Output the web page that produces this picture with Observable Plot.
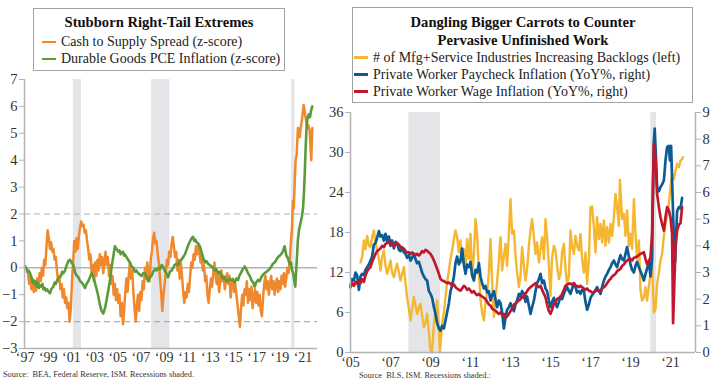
<!DOCTYPE html>
<html><head><meta charset="utf-8">
<script src="https://cdn.jsdelivr.net/npm/d3@7"></script>
<script src="https://cdn.jsdelivr.net/npm/@observablehq/plot@0.6"></script>
<style>
body{margin:0;background:#fff;}
#wrap{position:relative;width:720px;height:380px;font-family:"Liberation Serif",serif;color:#222;overflow:hidden;background:#fff}
.box{position:absolute;border:1.5px solid #a3a3a3;background:#fff;box-sizing:border-box}
.title{font-weight:bold;text-align:center;font-size:14.6px;line-height:18px;color:#111}
.item{font-size:14px;line-height:17px;white-space:nowrap;color:#222}
.sw{display:inline-block;width:14px;height:2.5px;vertical-align:middle;margin-right:5px;position:relative;top:-1px}
.src{position:absolute;font-size:8.3px;color:#333;white-space:nowrap}
.chart{position:absolute;top:0}
</style></head>
<body>
<div id="wrap">
  <div id="leftChart" class="chart" style="left:0"></div>
  <div id="rightChart" class="chart" style="left:325px"></div>
  <div class="box" style="left:33px;top:8px;width:252px;height:63px;padding:4px 0 0 8px">
    <div class="title" style="padding-right:8px">Stubborn Right-Tail Extremes</div>
    <div class="item" style="margin-top:2px"><span class="sw" style="background:#F0882D"></span>Cash to Supply Spread (z-score)</div>
    <div class="item"><span class="sw" style="background:#5B9B3A"></span>Durable Goods PCE Inflation (z-score)</div>
  </div>
  <div class="box" style="left:352px;top:7px;width:341px;height:96px;padding:4.5px 0 0 1px">
    <div class="title">Dangling Bigger Carrots to Counter<br>Pervasive Unfinished Work</div>
    <div class="item"><span class="sw" style="background:#F5B731"></span># of Mfg+Service Industries Increasing Backlogs (left)</div>
    <div class="item"><span class="sw" style="background:#0B5C95"></span>Private Worker Paycheck Inflation (YoY%, right)</div>
    <div class="item"><span class="sw" style="background:#C0172F"></span>Private Worker Wage Inflation (YoY%, right)</div>
  </div>
  <div class="src" style="left:3px;top:370px">Source:&nbsp; BEA, Federal Reserve, ISM. Recessions shaded.</div>
  <div class="src" style="left:359px;top:371px">Source&nbsp; BLS, ISM. Recessions shaded.:</div>
</div>
<script>
// ---------- DATA ----------
const recessions = [[2001.17, 2001.87], [2007.92, 2009.5], [2020.02, 2020.3]];

const leftYTicks = [-3, -2, -1, 0, 1, 2, 3, 4, 5, 6, 7];
const leftYears = [1997, 1999, 2001, 2003, 2005, 2007, 2009, 2011, 2013, 2015, 2017, 2019, 2021];
const rightLeftTicks = [0, 6, 12, 18, 24, 30, 36];
const rightRightTicks = [0, 1, 2, 3, 4, 5, 6, 7, 8, 9];
const rightYears = [2005, 2007, 2009, 2011, 2013, 2015, 2017, 2019, 2021];

// Cash to Supply Spread (z-score)
const cashSupply = [
[1997.25,-0.2],[1997.35,-0.6],[1997.45,-0.3],[1997.55,-0.8],[1997.65,-0.5],[1997.75,-0.9],[1997.85,-0.6],[1997.95,-0.85],
[1998.05,-0.4],[1998.15,-0.7],[1998.25,-0.2],[1998.35,-0.5],[1998.45,0.0],[1998.55,-0.3],[1998.65,0.3],[1998.75,0.1],[1998.85,0.8],[1998.95,1.4],
[1999.05,1.1],[1999.15,0.7],[1999.25,0.95],[1999.35,0.6],[1999.45,0.7],[1999.55,0.3],[1999.65,0.4],[1999.75,-0.1],[1999.85,-0.5],[1999.95,-0.3],
[2000.05,-0.8],[2000.15,-0.6],[2000.25,-1.1],[2000.35,-0.8],[2000.45,-1.3],[2000.55,-1.1],[2000.65,-1.5],[2000.75,-1.3],[2000.85,-2.0],[2000.95,-1.5],
[2001.05,-0.5],[2001.15,0.2],[2001.25,1.0],[2001.35,0.6],[2001.45,1.1],[2001.55,0.7],[2001.65,1.2],[2001.75,1.5],[2001.85,1.72],[2001.95,1.55],
[2002.05,1.6],[2002.15,1.3],[2002.25,1.4],[2002.35,1.0],[2002.45,0.7],[2002.55,0.3],[2002.65,0.5],[2002.75,-0.2],[2002.85,0.1],[2002.95,-0.5],
[2003.05,0.2],[2003.15,-0.3],[2003.25,0.3],[2003.35,-0.1],[2003.45,0.5],[2003.55,0.1],[2003.65,0.4],[2003.75,-0.2],[2003.85,0.2],[2003.95,0.6],
[2004.05,0.1],[2004.15,0.4],[2004.25,-0.3],[2004.35,0.1],[2004.45,-0.6],[2004.55,-0.3],[2004.65,-1.0],[2004.75,-0.6],[2004.85,-1.2],[2004.95,-0.8],
[2005.05,-1.3],[2005.15,-1.0],[2005.25,-1.8],[2005.35,-1.3],[2005.45,-2.1],[2005.55,-1.6],[2005.65,-0.9],[2005.75,-0.4],[2005.85,-0.9],[2005.95,-0.3],
[2006.05,0.2],[2006.15,-0.4],[2006.25,-0.1],[2006.35,-0.9],[2006.45,-1.5],[2006.55,-2.0],[2006.65,-1.4],[2006.75,-1.0],[2006.85,-1.6],[2006.95,-0.9],
[2007.05,-1.2],[2007.15,-0.5],[2007.25,-0.8],[2007.35,0.0],[2007.45,-0.4],[2007.55,0.2],[2007.65,-0.2],[2007.75,-0.5],[2007.85,0.3],[2007.95,0.6],
[2008.05,1.1],[2008.15,1.3],[2008.25,0.9],[2008.35,1.0],[2008.45,0.5],[2008.55,0.2],[2008.65,-0.4],[2008.75,-0.9],[2008.85,-1.6],[2008.95,-1.0],
[2009.05,-0.6],[2009.15,-0.2],[2009.25,0.3],[2009.35,0.1],[2009.45,0.6],[2009.55,0.4],[2009.65,0.9],[2009.75,1.15],[2009.85,0.8],[2009.95,0.4],
[2010.05,0.6],[2010.15,-0.1],[2010.25,0.3],[2010.35,-0.4],[2010.45,0.2],[2010.55,-0.3],[2010.65,-0.9],[2010.75,-1.3],[2010.85,-0.9],[2010.95,-1.1],
[2011.05,-0.6],[2011.15,-0.9],[2011.25,-0.3],[2011.35,0.2],[2011.45,0.0],[2011.55,0.5],[2011.65,0.3],[2011.75,0.8],[2011.85,0.5],[2011.95,0.9],
[2012.05,0.6],[2012.15,0.2],[2012.25,0.5],[2012.35,-0.1],[2012.45,0.1],[2012.55,-0.5],[2012.65,-0.3],[2012.75,-1.0],[2012.85,-1.3],[2012.95,-0.8],
[2013.05,-0.4],[2013.15,-0.7],[2013.25,-0.2],[2013.35,0.2],[2013.45,-0.3],[2013.55,-0.6],[2013.65,-0.2],[2013.75,-0.9],[2013.85,-0.5],[2013.95,-0.1],
[2014.05,-0.5],[2014.15,-0.3],[2014.25,-0.8],[2014.35,-0.4],[2014.45,-0.2],[2014.55,-0.6],[2014.65,-0.3],[2014.75,-1.1],[2014.85,-0.6],[2014.95,-0.4],
[2015.05,-0.9],[2015.15,-0.6],[2015.25,-1.0],[2015.35,-1.4],[2015.45,-1.8],[2015.55,-2.2],[2015.65,-1.5],[2015.75,-1.0],[2015.85,-1.4],[2015.95,-0.8],
[2016.05,-1.0],[2016.15,-0.5],[2016.25,-1.3],[2016.35,-0.8],[2016.45,-1.2],[2016.55,-0.7],[2016.65,-1.5],[2016.75,-1.1],[2016.85,-0.8],[2016.95,-1.3],
[2017.05,-0.9],[2017.15,-1.4],[2017.25,-1.0],[2017.35,-1.6],[2017.45,-1.8],[2017.55,-1.1],[2017.65,-0.6],[2017.75,-0.3],[2017.85,-0.8],[2017.95,-0.5],
[2018.05,-1.0],[2018.15,-0.6],[2018.25,-0.3],[2018.35,-0.8],[2018.45,-0.5],[2018.55,-1.0],[2018.65,-0.6],[2018.75,-0.4],[2018.85,-0.9],[2018.95,-0.5],
[2019.05,-0.8],[2019.15,-0.3],[2019.25,-0.6],[2019.35,-0.2],[2019.45,-0.7],[2019.55,-0.4],[2019.65,0.0],[2019.75,-0.2],[2019.85,0.3],[2019.95,0.9],
[2020.05,1.5],[2020.13,2.5],[2020.2,2.2],[2020.3,3.4],[2020.36,4.0],[2020.45,4.2],[2020.56,5.2],[2020.71,4.85],[2020.8,5.2],[2020.91,5.5],
[2021.05,6.05],[2021.15,5.8],[2021.25,5.5],[2021.35,5.2],[2021.45,5.3],[2021.57,5.1],[2021.71,4.0],[2021.8,5.2]
];

// Durable Goods PCE Inflation (z-score)
const durablePCE = [
[1997.0,0.05],[1997.1,0.0],[1997.2,-0.15],[1997.3,-0.1],[1997.43,-0.2],[1997.55,-0.35],[1997.65,-0.55],[1997.72,-0.45],[1997.8,-0.6],[1997.9,-0.5],
[1998.0,-0.7],[1998.1,-0.55],[1998.2,-0.75],[1998.3,-0.65],[1998.4,-0.7],[1998.5,-0.6],[1998.58,-0.8],[1998.7,-0.75],[1998.8,-0.85],[1998.9,-0.8],
[1999.0,-0.88],[1999.15,-0.95],[1999.25,-0.8],[1999.35,-0.75],[1999.44,-0.7],[1999.55,-0.55],[1999.65,-0.6],[1999.73,-0.5],[1999.85,-0.4],
[2000.0,-0.35],[2000.1,-0.3],[2000.2,-0.15],[2000.3,-0.2],[2000.45,-0.1],[2000.55,0.05],[2000.65,0.15],[2000.73,0.25],[2000.88,0.3],
[2001.0,0.2],[2001.17,0.1],[2001.3,-0.15],[2001.46,-0.3],[2001.6,-0.35],[2001.75,-0.5],[2001.9,-0.55],
[2002.05,-0.65],[2002.17,-0.75],[2002.3,-0.6],[2002.46,-0.5],[2002.6,-0.35],[2002.75,-0.2],[2002.9,-0.35],
[2003.03,-0.55],[2003.15,-0.75],[2003.32,-1.05],[2003.45,-1.35],[2003.6,-1.6],[2003.75,-1.7],[2003.9,-1.5],
[2004.04,-1.2],[2004.2,-0.8],[2004.33,-0.45],[2004.45,-0.05],[2004.61,0.4],[2004.7,0.65],[2004.76,0.8],[2004.9,0.7],
[2005.04,0.6],[2005.15,0.65],[2005.25,0.5],[2005.33,0.55],[2005.45,0.6],[2005.55,0.45],[2005.62,0.5],[2005.75,0.4],[2005.9,0.3],
[2006.05,0.2],[2006.2,0.05],[2006.35,0.0],[2006.48,-0.15],[2006.6,-0.1],[2006.77,-0.2],[2006.9,-0.25],
[2007.06,-0.3],[2007.2,-0.2],[2007.34,-0.2],[2007.5,-0.35],[2007.63,-0.5],[2007.78,-0.35],[2007.92,-0.3],
[2008.05,-0.15],[2008.2,-0.05],[2008.35,-0.1],[2008.5,0.0],[2008.65,-0.05],[2008.8,0.1],[2008.92,0.05],
[2009.05,-0.1],[2009.2,-0.2],[2009.35,-0.35],[2009.5,-0.15],[2009.65,-0.1],[2009.78,0.0],[2009.9,0.1],
[2010.07,0.15],[2010.2,0.1],[2010.35,0.25],[2010.5,0.3],[2010.65,0.4],[2010.8,0.5],[2010.93,0.65],
[2011.05,0.8],[2011.2,0.95],[2011.37,1.1],[2011.51,1.15],[2011.6,1.0],[2011.7,1.05],[2011.8,0.95],[2011.95,0.9],
[2012.09,0.8],[2012.23,0.6],[2012.35,0.4],[2012.52,0.2],[2012.65,0.25],[2012.8,0.15],[2012.95,0.1],
[2013.1,0.05],[2013.23,0.0],[2013.35,-0.1],[2013.5,-0.05],[2013.67,-0.2],[2013.8,-0.15],[2013.95,-0.3],
[2014.1,-0.4],[2014.25,-0.35],[2014.4,-0.5],[2014.53,-0.5],[2014.65,-0.4],[2014.8,-0.45],[2014.96,-0.45],
[2015.1,-0.55],[2015.25,-0.4],[2015.39,-0.45],[2015.5,-0.3],[2015.68,-0.15],[2015.8,-0.05],[2015.97,0.05],
[2016.1,-0.05],[2016.25,-0.2],[2016.4,-0.3],[2016.54,-0.45],[2016.7,-0.55],[2016.83,-0.7],[2016.95,-0.55],
[2017.11,-0.45],[2017.25,-0.5],[2017.4,-0.35],[2017.55,-0.25],[2017.69,-0.2],[2017.85,-0.15],[2017.97,-0.1],
[2018.1,-0.05],[2018.26,0.05],[2018.4,0.15],[2018.55,0.2],[2018.7,0.3],[2018.85,0.4],[2018.98,0.45],
[2019.1,0.5],[2019.25,0.6],[2019.41,0.8],[2019.5,0.6],[2019.56,0.45],[2019.7,0.35],[2019.84,0.15],[2019.95,0.2],
[2020.05,-0.1],[2020.15,-0.2],[2020.25,-0.5],[2020.33,-0.7],[2020.45,0.2],[2020.55,1.0],[2020.65,1.4],[2020.75,1.6],[2020.9,1.9],
[2021.0,2.2],[2021.08,2.8],[2021.15,3.5],[2021.22,4.4],[2021.3,5.2],[2021.4,5.6],[2021.5,5.7],[2021.6,5.6],[2021.7,5.85],[2021.8,6.0]
];

// # of Mfg+Service Industries Increasing Backlogs (left axis)
const backlogs = [
[2005.50,13.5],[2005.58,14.3],[2005.67,16.8],[2005.75,15.5],[2005.83,17.5],[2005.92,16.0],
[2006.00,15.8],[2006.08,17.3],[2006.17,18.3],[2006.25,16.5],[2006.33,15.3],[2006.42,14.0],[2006.50,12.3],[2006.58,14.3],[2006.67,15.3],[2006.75,13.0],[2006.83,11.8],[2006.92,12.8],
[2007.00,13.8],[2007.08,12.0],[2007.17,11.3],[2007.25,12.5],[2007.33,13.3],[2007.42,12.0],[2007.50,10.8],[2007.58,11.8],[2007.67,12.8],[2007.75,10.5],[2007.83,8.3],[2007.92,6.5],
[2008.00,4.8],[2008.08,6.5],[2008.17,8.3],[2008.25,7.0],[2008.33,5.8],[2008.42,6.8],[2008.50,7.3],[2008.58,5.5],[2008.67,3.8],[2008.75,4.5],[2008.83,5.8],[2008.92,3.0],
[2009.00,0.3],[2009.08,0.0],[2009.17,4.3],[2009.25,6.3],[2009.33,7.8],[2009.42,3.5],[2009.47,0.0],[2009.58,4.3],[2009.67,6.0],[2009.75,8.3],[2009.83,10.5],[2009.92,12.3],
[2010.00,14.0],[2010.08,15.3],[2010.17,17.0],[2010.25,18.3],[2010.33,17.3],[2010.42,15.0],[2010.50,16.8],[2010.58,13.5],[2010.67,15.5],[2010.75,12.5],[2010.83,17.0],[2010.92,14.0],
[2011.00,17.8],[2011.08,11.3],[2011.17,14.8],[2011.25,20.0],[2011.33,17.8],[2011.42,12.0],[2011.50,8.0],[2011.58,6.0],[2011.67,4.8],[2011.75,7.5],[2011.83,9.0],[2011.92,12.0],
[2012.00,17.0],[2012.08,10.8],[2012.17,5.3],[2012.25,8.5],[2012.33,10.5],[2012.42,14.0],[2012.50,17.3],[2012.58,12.3],[2012.67,14.5],[2012.75,16.3],[2012.83,13.0],[2012.92,18.0],
[2013.00,23.0],[2013.08,17.8],[2013.17,18.3],[2013.25,14.5],[2013.33,12.0],[2013.42,9.8],[2013.50,11.5],[2013.58,15.8],[2013.67,13.0],[2013.75,10.8],[2013.83,12.5],[2013.92,16.0],
[2014.00,18.3],[2014.08,20.0],[2014.17,17.3],[2014.25,14.8],[2014.33,16.5],[2014.42,13.5],[2014.50,15.5],[2014.58,17.3],[2014.67,14.0],[2014.75,20.0],[2014.83,17.3],[2014.92,13.0],
[2015.00,8.5],[2015.08,14.3],[2015.17,16.0],[2015.25,15.3],[2015.33,13.0],[2015.42,11.0],[2015.50,11.8],[2015.58,15.0],[2015.67,16.3],[2015.75,12.5],[2015.83,10.3],[2015.92,11.5],
[2016.00,18.3],[2016.08,15.8],[2016.17,14.8],[2016.25,17.5],[2016.33,16.0],[2016.42,15.3],[2016.50,17.8],[2016.58,14.0],[2016.67,12.0],[2016.75,15.0],[2016.83,10.3],[2016.92,14.0],
[2017.00,21.8],[2017.08,21.9],[2017.17,18.8],[2017.25,15.0],[2017.33,20.3],[2017.42,17.0],[2017.50,19.3],[2017.58,16.5],[2017.67,19.8],[2017.75,16.0],[2017.83,18.8],[2017.92,16.5],
[2018.00,19.3],[2018.08,17.5],[2018.17,20.3],[2018.25,23.8],[2018.33,21.8],[2018.42,19.0],[2018.47,25.9],[2018.53,22.8],[2018.58,20.0],[2018.67,20.8],[2018.75,17.5],[2018.83,21.3],[2018.92,16.0],
[2019.00,17.8],[2019.08,15.5],[2019.17,23.0],[2019.25,17.8],[2019.33,14.0],[2019.42,16.8],[2019.50,9.3],[2019.58,7.8],[2019.67,8.3],[2019.75,9.8],[2019.83,7.8],[2019.92,10.0],
[2020.00,11.8],[2020.08,13.8],[2020.17,6.0],[2020.25,6.5],[2020.33,10.3],[2020.42,12.0],[2020.50,13.8],[2020.58,14.8],[2020.67,17.5],[2020.75,19.3],[2020.83,20.3],[2020.92,22.3],
[2021.00,24.8],[2021.08,26.8],[2021.17,26.0],[2021.25,27.3],[2021.33,28.3],[2021.42,27.8],[2021.50,28.8],[2021.58,29.0],[2021.63,29.3]
];

// Private Worker Paycheck Inflation (YoY%, right axis)
const paycheck = [
[2005.00,2.5],[2005.08,2.75],[2005.17,2.7],[2005.25,3.0],[2005.33,2.9],[2005.42,2.35],[2005.50,2.85],[2005.58,2.95],[2005.67,2.9],[2005.75,3.1],[2005.83,3.2],[2005.92,3.3],
[2006.00,3.45],[2006.08,3.6],[2006.17,4.05],[2006.25,4.1],[2006.33,4.3],[2006.42,4.55],[2006.50,4.35],[2006.58,4.4],[2006.67,4.2],[2006.75,4.45],[2006.83,4.15],[2006.92,4.35],
[2007.00,4.0],[2007.08,4.2],[2007.17,3.9],[2007.25,4.15],[2007.33,4.1],[2007.42,3.85],[2007.50,3.8],[2007.58,3.95],[2007.67,3.75],[2007.75,3.7],[2007.83,3.55],[2007.92,3.65],
[2008.00,3.45],[2008.08,3.55],[2008.17,3.7],[2008.25,3.5],[2008.33,3.35],[2008.42,3.4],[2008.50,3.2],[2008.58,3.0],[2008.67,2.85],[2008.75,2.75],[2008.83,2.7],[2008.92,2.3],
[2009.00,2.2],[2009.08,2.05],[2009.17,1.7],[2009.25,1.45],[2009.33,1.1],[2009.42,0.9],[2009.50,0.82],[2009.58,1.0],[2009.67,0.9],[2009.75,1.2],[2009.83,1.5],[2009.92,1.85],
[2010.00,2.3],[2010.08,2.5],[2010.17,2.85],[2010.25,3.35],[2010.33,3.6],[2010.42,3.3],[2010.50,3.45],[2010.58,3.9],[2010.67,3.3],[2010.75,2.95],[2010.83,3.3],[2010.92,3.2],
[2011.00,3.4],[2011.08,2.9],[2011.17,2.7],[2011.25,3.1],[2011.33,3.0],[2011.42,3.35],[2011.50,2.85],[2011.58,2.6],[2011.67,2.4],[2011.75,2.5],[2011.83,2.25],[2011.92,2.3],
[2012.00,1.95],[2012.08,2.15],[2012.17,2.3],[2012.25,2.0],[2012.33,1.7],[2012.42,1.95],[2012.50,1.85],[2012.58,1.5],[2012.67,0.9],[2012.75,1.3],[2012.83,1.6],[2012.92,1.7],
[2013.00,1.85],[2013.08,1.7],[2013.17,1.55],[2013.25,1.8],[2013.33,1.95],[2013.42,2.2],[2013.50,2.1],[2013.58,2.3],[2013.67,2.2],[2013.75,1.9],[2013.83,2.1],[2013.92,1.75],
[2014.00,1.45],[2014.08,1.7],[2014.17,1.95],[2014.25,2.3],[2014.33,2.6],[2014.42,2.75],[2014.50,2.95],[2014.58,2.6],[2014.67,2.7],[2014.75,2.4],[2014.83,2.3],[2014.92,1.95],
[2015.00,1.7],[2015.08,1.9],[2015.17,2.05],[2015.25,1.85],[2015.33,1.7],[2015.42,1.9],[2015.50,2.1],[2015.58,2.0],[2015.67,2.2],[2015.75,2.35],[2015.83,2.45],[2015.92,2.3],
[2016.00,2.2],[2016.08,2.4],[2016.17,2.6],[2016.25,2.45],[2016.33,2.25],[2016.42,2.3],[2016.50,2.2],[2016.58,2.35],[2016.67,2.3],[2016.75,1.9],[2016.83,1.6],[2016.92,1.8],
[2017.00,2.05],[2017.08,2.15],[2017.17,2.25],[2017.25,2.35],[2017.33,2.45],[2017.42,2.3],[2017.50,2.2],[2017.58,2.45],[2017.67,2.7],[2017.75,2.85],[2017.83,2.95],[2017.92,3.1],
[2018.00,3.2],[2018.08,3.35],[2018.17,3.45],[2018.25,3.3],[2018.33,3.2],[2018.42,3.45],[2018.50,3.65],[2018.58,3.5],[2018.67,3.45],[2018.75,3.7],[2018.83,3.95],[2018.92,3.6],
[2019.00,3.3],[2019.08,3.1],[2019.17,3.0],[2019.25,3.25],[2019.33,3.4],[2019.42,3.2],[2019.50,3.05],[2019.58,2.9],[2019.67,2.7],[2019.75,2.95],[2019.83,3.15],[2019.92,3.45],
[2020.00,2.85],[2020.08,3.5],[2020.13,6.5],[2020.17,7.95],[2020.21,8.4],[2020.25,7.7],[2020.33,6.2],[2020.42,6.05],[2020.50,6.2],[2020.58,6.3],[2020.67,6.45],[2020.75,7.2],
[2020.83,7.7],[2020.92,7.75],[2020.97,7.2],[2021.03,7.75],[2021.10,5.95],[2021.17,4.2],[2021.23,3.4],[2021.33,5.3],[2021.42,5.45],[2021.50,5.4],[2021.58,5.8]
];

// Private Worker Wage Inflation (YoY%, right axis)
const wage = [
[2005.00,2.45],[2005.08,2.6],[2005.17,2.5],[2005.25,2.65],[2005.33,2.58],[2005.42,2.7],[2005.50,2.6],[2005.58,2.75],[2005.67,2.65],[2005.75,2.9],[2005.83,3.05],[2005.92,3.15],
[2006.00,3.2],[2006.08,3.4],[2006.17,3.55],[2006.25,3.7],[2006.33,3.8],[2006.42,3.85],[2006.50,3.9],[2006.58,4.0],[2006.67,3.95],[2006.75,4.07],[2006.83,4.1],[2006.92,4.15],
[2007.00,4.05],[2007.08,4.1],[2007.17,4.0],[2007.25,4.05],[2007.33,4.1],[2007.42,4.05],[2007.50,3.95],[2007.58,3.9],[2007.67,3.9],[2007.75,3.8],[2007.83,3.75],[2007.92,3.76],
[2008.00,3.7],[2008.08,3.75],[2008.17,3.7],[2008.25,3.65],[2008.33,3.7],[2008.42,3.64],[2008.50,3.7],[2008.58,3.8],[2008.67,3.76],[2008.75,3.85],[2008.83,3.82],[2008.92,3.75],
[2009.00,3.7],[2009.08,3.6],[2009.17,3.45],[2009.25,3.3],[2009.33,3.14],[2009.42,2.95],[2009.50,2.76],[2009.58,2.7],[2009.67,2.68],[2009.75,2.64],[2009.83,2.6],[2009.92,2.62],
[2010.00,2.58],[2010.08,2.5],[2010.17,2.55],[2010.25,2.45],[2010.33,2.4],[2010.42,2.35],[2010.50,2.32],[2010.58,2.4],[2010.67,2.5],[2010.75,2.45],[2010.83,2.35],[2010.92,2.4],
[2011.00,2.32],[2011.08,2.25],[2011.17,2.3],[2011.25,2.2],[2011.33,2.15],[2011.42,2.2],[2011.50,2.14],[2011.58,2.1],[2011.67,2.05],[2011.75,2.01],[2011.83,1.9],[2011.92,1.8],
[2012.00,1.76],[2012.08,1.65],[2012.17,1.6],[2012.25,1.57],[2012.33,1.5],[2012.42,1.45],[2012.50,1.5],[2012.58,1.4],[2012.67,1.45],[2012.75,1.3],[2012.83,1.35],[2012.92,1.45],
[2013.00,1.55],[2013.08,1.65],[2013.17,1.8],[2013.25,1.83],[2013.33,1.9],[2013.42,1.95],[2013.50,2.0],[2013.58,2.1],[2013.67,2.05],[2013.75,2.2],[2013.83,2.3],[2013.92,2.4],
[2014.00,2.45],[2014.08,2.5],[2014.17,2.55],[2014.25,2.6],[2014.33,2.5],[2014.42,2.45],[2014.50,2.5],[2014.58,2.35],[2014.67,2.2],[2014.75,2.07],[2014.83,1.8],[2014.92,1.55],
[2015.00,1.45],[2015.08,1.6],[2015.17,1.83],[2015.25,1.9],[2015.33,2.0],[2015.42,2.05],[2015.50,2.08],[2015.58,2.2],[2015.67,2.35],[2015.75,2.5],[2015.83,2.55],[2015.92,2.58],
[2016.00,2.58],[2016.08,2.55],[2016.17,2.6],[2016.25,2.5],[2016.33,2.5],[2016.42,2.45],[2016.50,2.5],[2016.58,2.45],[2016.67,2.4],[2016.75,2.35],[2016.83,2.4],[2016.92,2.32],
[2017.00,2.3],[2017.08,2.25],[2017.17,2.26],[2017.25,2.3],[2017.33,2.35],[2017.42,2.3],[2017.50,2.32],[2017.58,2.4],[2017.67,2.45],[2017.75,2.5],[2017.83,2.6],[2017.92,2.7],
[2018.00,2.76],[2018.08,2.85],[2018.17,2.9],[2018.25,2.95],[2018.33,3.05],[2018.42,3.1],[2018.50,3.14],[2018.58,3.25],[2018.67,3.3],[2018.75,3.39],[2018.83,3.45],[2018.92,3.5],
[2019.00,3.51],[2019.08,3.45],[2019.17,3.55],[2019.25,3.57],[2019.33,3.6],[2019.42,3.65],[2019.50,3.7],[2019.58,3.72],[2019.67,3.76],[2019.75,3.5],[2019.83,3.32],[2019.92,3.4],
[2020.00,3.57],[2020.08,4.45],[2020.17,7.82],[2020.25,7.32],[2020.33,5.95],[2020.42,5.45],[2020.50,5.07],[2020.58,4.82],[2020.67,4.57],[2020.75,5.07],[2020.83,5.45],[2020.92,5.32],
[2021.00,5.07],[2021.08,4.45],[2021.13,1.1],[2021.25,4.0],[2021.33,4.57],[2021.42,4.8],[2021.50,4.85],[2021.58,5.45]
];

// ---------- CHARTS ----------
const yr = d => "\u2018" + String(d).slice(2);
const axisGray = "#b3b3b3";
const font = '"Liberation Serif", serif';

const leftX0 = 1996.95, leftX1 = 2022.25;
const leftPlot = Plot.plot({
  width: 325, height: 380,
  marginLeft: 24, marginRight: 8, marginTop: 79, marginBottom: 32,
  style: {fontFamily: font, fontSize: "14px", background: "none", color: "#333", overflow: "visible"},
  x: {domain: [leftX0, leftX1], axis: null},
  y: {domain: [-3, 7], axis: null},
  marks: [
    Plot.rect(recessions, {x1: d => d[0], x2: d => d[1], y1: () => -3, y2: () => 7, fill: "#e4e5e8"}),
    Plot.ruleY([0], {stroke: axisGray, strokeWidth: 1.5}),
    Plot.ruleY([2, -2], {stroke: "#b0b0b0", strokeWidth: 1.2, strokeDasharray: "6,4"}),
    Plot.line(cashSupply, {x: d => d[0], y: d => d[1], stroke: "#F0882D", strokeWidth: 2.5, strokeLinejoin: "round"}),
    Plot.line(durablePCE, {x: d => d[0], y: d => d[1], stroke: "#5B9B3A", strokeWidth: 2.6, strokeLinejoin: "round"}),
    Plot.ruleX([leftX0], {stroke: axisGray, strokeWidth: 1.5}),
    Plot.ruleY([-3], {stroke: axisGray, strokeWidth: 1.5}),
    Plot.axisY(leftYTicks, {anchor: "left", tickSize: 5, tickPadding: 2, stroke: axisGray, fill: "#333", fontSize: 14.5}),
    Plot.axisX(leftYears, {anchor: "bottom", tickSize: 0, tickPadding: 4, tickFormat: yr, fill: "#333", fontSize: 14})
  ]
});
document.getElementById("leftChart").append(leftPlot);

const rX0 = 2005, rX1 = 2022.25;
const rightPlot = Plot.plot({
  width: 395, height: 380,
  marginLeft: 25, marginRight: 25, marginTop: 112, marginBottom: 28,
  style: {fontFamily: font, fontSize: "14px", background: "none", color: "#333", overflow: "visible"},
  x: {domain: [rX0, rX1], axis: null},
  y: {domain: [0, 36], axis: null},
  marks: [
    Plot.rect(recessions.filter(d => d[0] >= rX0), {x1: d => d[0], x2: d => d[1], y1: () => 0, y2: () => 36, fill: "#e4e5e8"}),
    Plot.line(backlogs, {x: d => d[0], y: d => d[1], stroke: "#F5B731", strokeWidth: 2.4, strokeLinejoin: "round"}),
    Plot.line(paycheck, {x: d => d[0], y: d => d[1] * 4, stroke: "#0B5C95", strokeWidth: 2.7, strokeLinejoin: "round"}),
    Plot.line(wage, {x: d => d[0], y: d => d[1] * 4, stroke: "#C0172F", strokeWidth: 2.7, strokeLinejoin: "round"}),
    Plot.ruleX([rX0, rX1], {stroke: axisGray, strokeWidth: 1.5}),
    Plot.ruleY([0], {stroke: axisGray, strokeWidth: 1.5}),
    Plot.axisY(rightLeftTicks, {anchor: "left", tickSize: 5, tickPadding: 2, stroke: axisGray, fill: "#333", fontSize: 14.5}),
    Plot.axisY(rightRightTicks.map(d => d * 4), {anchor: "right", tickSize: 5, tickPadding: 2, stroke: axisGray, fill: "#333", fontSize: 14.5, tickFormat: d => d / 4}),
    Plot.axisX(rightYears, {anchor: "bottom", tickSize: 0, tickPadding: 5, tickFormat: yr, fill: "#333", fontSize: 14})
  ]
});
document.getElementById("rightChart").append(rightPlot);
</script>
</body></html>
